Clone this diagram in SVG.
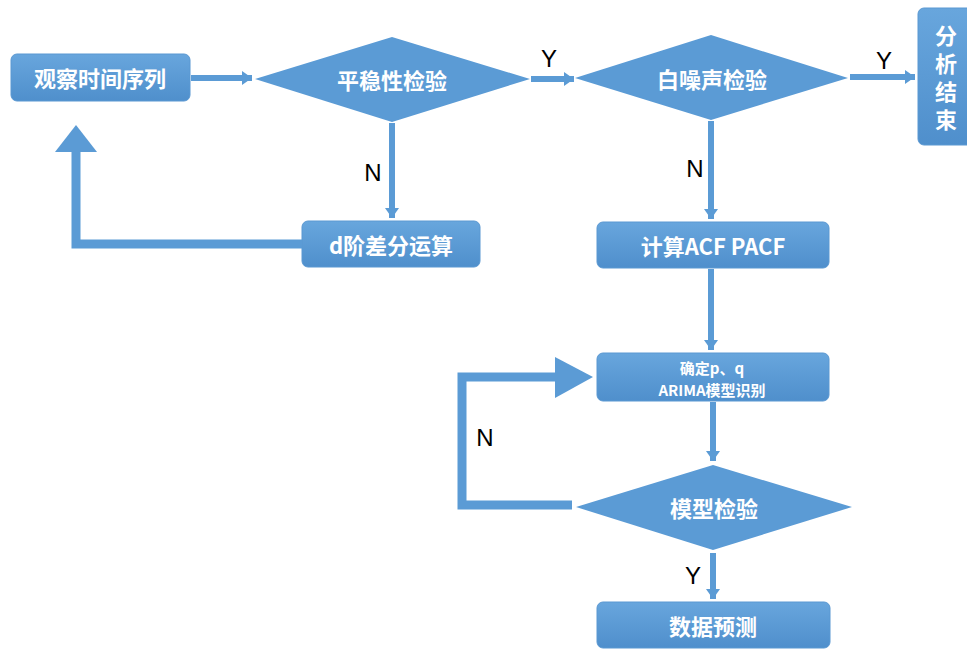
<svg xmlns="http://www.w3.org/2000/svg" width="967" height="651" viewBox="0 0 967 651">
<defs>
<linearGradient id="g" x1="0" y1="0" x2="0" y2="1">
<stop offset="0" stop-color="#68a6dd"/>
<stop offset="1" stop-color="#4f8fcc"/>
</linearGradient>
<marker id="ah" markerUnits="userSpaceOnUse" markerWidth="12" markerHeight="14" refX="10" refY="7" orient="auto">
<path d="M0,0 L10,7 L0,14 Z" fill="#5b9bd5"/>
</marker>
<style>
.box{fill:url(#g);stroke:#5a98d2;stroke-width:1}
.dia{fill:#5b9bd5}
.t{fill:#fff;font-family:"Noto Sans CJK SC","Noto Sans",sans-serif;font-weight:bold;font-size:22px;text-anchor:middle;dominant-baseline:central}
.ts{font-size:15px}
.v{writing-mode:vertical-rl;letter-spacing:6px;dominant-baseline:auto}
.lab{fill:#000;font-family:"Liberation Sans",Arial,sans-serif;font-size:24px;text-anchor:middle}
.c{stroke:#5b9bd5;stroke-width:6;fill:none;marker-end:url(#ah)}
.fb{stroke:#5b9bd5;stroke-width:9;fill:none}
.hd{fill:#5b9bd5}
</style>
</defs>
<rect width="967" height="651" fill="#fff"/>

<g id="n1"><rect class="box" x="11" y="54" width="179" height="47" rx="6"/><text class="t" x="100" y="77">观察时间序列</text></g>
<g id="n2"><polygon class="dia" points="255,79 392,37 530,79 392,122"/><text class="t" x="392" y="79">平稳性检验</text></g>
<g id="n3"><polygon class="dia" points="575,78 711,35 848,78 711,120"/><text class="t" x="712" y="78">白噪声检验</text></g>
<g id="n4"><rect class="box" x="918" y="8" width="60" height="137" rx="6"/><text class="t v" x="946" y="81">分析结束</text></g>
<g id="n5"><rect class="box" x="302" y="221" width="178" height="46" rx="6"/><text class="t" x="391" y="244">d阶差分运算</text></g>
<g id="n6"><rect class="box" x="597" y="222" width="232" height="46" rx="6"/><text class="t" x="713" y="245">计算ACF PACF</text></g>
<g id="n7"><rect class="box" x="597" y="353" width="232" height="48" rx="6"/><text class="t ts" x="712" y="367">确定p、q</text><text class="t ts" x="712" y="389">ARIMA模型识别</text></g>
<g id="n8"><polygon class="dia" points="576,507 713,465 852,507 713,550"/><text class="t" x="714" y="507">模型检验</text></g>
<g id="n9"><rect class="box" x="597" y="602" width="233" height="46" rx="6"/><text class="t" x="713" y="625">数据预测</text></g>

<g id="connectors">
<line class="c" x1="191" y1="78" x2="252" y2="78"/>
<line class="c" x1="531" y1="79" x2="574" y2="79"/>
<line class="c" x1="850" y1="77" x2="915" y2="77"/>
<line class="c" x1="392" y1="123" x2="392" y2="218"/>
<line class="c" x1="711" y1="121" x2="711" y2="219"/>
<line class="c" x1="711" y1="269" x2="711" y2="350"/>
<line class="c" x1="713" y1="402" x2="713" y2="461"/>
<line class="c" x1="713" y1="553" x2="713" y2="599"/>
<polyline class="fb" points="302,244 76,244 76,150"/>
<polygon class="hd" points="55,152 76,125 97,152"/>
<polyline class="fb" points="572,505 462,505 462,377 557,377"/>
<polygon class="hd" points="555,357 593,377 555,398"/>
<text class="lab" x="549" y="67">Y</text>
<text class="lab" x="884" y="69">Y</text>
<text class="lab" x="373" y="181">N</text>
<text class="lab" x="695" y="177">N</text>
<text class="lab" x="485" y="446">N</text>
<text class="lab" x="693" y="584">Y</text>
</g>
</svg>
